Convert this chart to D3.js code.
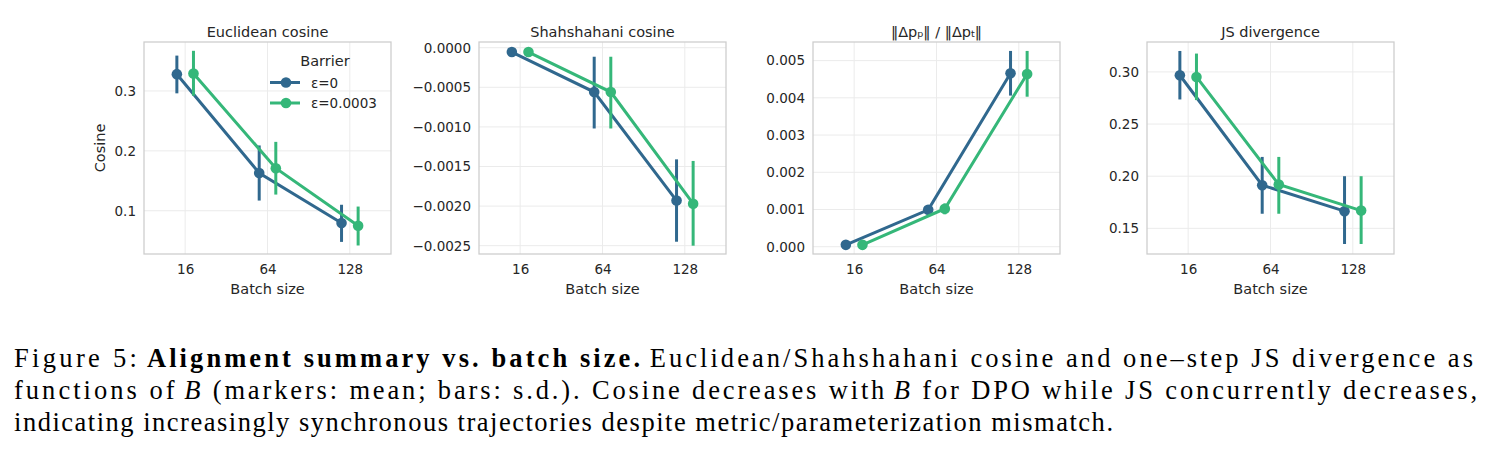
<!DOCTYPE html>
<html>
<head>
<meta charset="utf-8">
<script src="https://cdn.jsdelivr.net/npm/d3@7"></script>
<style>
  body { margin: 0; background: #fff; }
  svg text { font-family: "DejaVu Sans", sans-serif; fill: #262626; }
  svg text.cap { font-family: "Liberation Serif", serif; fill: #000; }
</style>
</head>
<body>
<svg id="chart" width="1489" height="463"></svg>
<script>
// categories and groups
const batchSizes = ["16", "64", "128"];
const barrierNames = ["ε=0", "ε=0.0003"];
const colors = ["#30688e", "#35b779"];

// Euclidean cosine (mean, low, high) per barrier
const eucMean = [[0.328, 0.163, 0.0795], [0.329, 0.171, 0.075]];
const eucLow  = [[0.296, 0.117, 0.048], [0.292, 0.127, 0.042]];
const eucHigh = [[0.359, 0.209, 0.110], [0.367, 0.215, 0.107]];

// Shahshahani cosine
const shaMean = [[-0.000055, -0.00056, -0.00193], [-0.000055, -0.00056, -0.00197]];
const shaLow  = [[-0.000060, -0.00102, -0.00245], [-0.000060, -0.00102, -0.00250]];
const shaHigh = [[-0.000050, -0.000114, -0.00141], [-0.000050, -0.000114, -0.00143]];

// ratio of update norms
const ratioMean = [[0.00005, 0.00099, 0.00466], [0.00005, 0.00102, 0.00464]];
const ratioLow  = [[0.00004, 0.00096, 0.00406], [0.00004, 0.00087, 0.00403]];
const ratioHigh = [[0.00006, 0.00102, 0.00526], [0.00006, 0.00116, 0.00526]];

// JS divergence
const jsMean = [[0.2968, 0.1914, 0.1665], [0.2952, 0.192, 0.167]];
const jsLow  = [[0.2736, 0.164, 0.135], [0.273, 0.164, 0.135]];
const jsHigh = [[0.3201, 0.2185, 0.200], [0.3176, 0.2185, 0.200]];

// tick values
const eucTicks = [0.1, 0.2, 0.3];
const shaTicks = [0, -0.0005, -0.001, -0.0015, -0.002, -0.0025];
const ratioTicks = [0, 0.001, 0.002, 0.003, 0.004, 0.005];
const jsTicks = [0.15, 0.2, 0.25, 0.3];

const panels = [
  {title: "Euclidean cosine", x0: 144, mean: eucMean, low: eucLow, high: eucHigh,
   domain: [0.0278, 0.3817], ticks: eucTicks, fmt: ".1f", ylabel: "Cosine", legend: true},
  {title: "Shahshahani cosine", x0: 479, mean: shaMean, low: shaLow, high: shaHigh,
   domain: [-0.002605, 0.000072], ticks: shaTicks, fmt: ".4f"},
  {title: null, x0: 813, mean: ratioMean, low: ratioLow, high: ratioHigh,
   domain: [-0.000196, 0.0055], ticks: ratioTicks, fmt: ".3f"},
  {title: "JS divergence", x0: 1147, mean: jsMean, low: jsLow, high: jsHigh,
   domain: [0.1254, 0.3287], ticks: jsTicks, fmt: ".2f"}
];

const svg = d3.select("#chart");
const pw = 247, yTop = 42, yBottom = 254;
const dodge = 8.3;

panels.forEach(p => {
  const x = d3.scalePoint().domain(batchSizes).range([p.x0, p.x0 + pw]).padding(0.5);
  const y = d3.scaleLinear().domain(p.domain).range([yBottom, yTop]);
  const g = svg.append("g");

  // grid
  g.selectAll("line.gx").data(batchSizes).join("line")
    .attr("x1", d => x(d)).attr("x2", d => x(d))
    .attr("y1", yTop).attr("y2", yBottom)
    .attr("stroke", "#ebebeb").attr("stroke-width", 1);
  g.selectAll("line.gy").data(p.ticks).join("line")
    .attr("x1", p.x0).attr("x2", p.x0 + pw)
    .attr("y1", d => y(d)).attr("y2", d => y(d))
    .attr("stroke", "#ebebeb").attr("stroke-width", 1);

  // frame
  g.append("rect").attr("x", p.x0).attr("y", yTop)
    .attr("width", pw).attr("height", yBottom - yTop)
    .attr("fill", "none").attr("stroke", "#cccccc").attr("stroke-width", 1.25);

  // axes (text only)
  const xa = g.append("g").attr("transform", `translate(0,${yBottom})`)
    .call(d3.axisBottom(x).tickSize(0).tickPadding(10));
  xa.select(".domain").remove();
  xa.selectAll("text").attr("font-size", 13.5).attr("font-family", null).attr("fill", null);

  const ya = g.append("g").attr("transform", `translate(${p.x0},0)`)
    .call(d3.axisLeft(y).tickValues(p.ticks).tickFormat(d3.format(p.fmt)).tickSize(0).tickPadding(8));
  ya.select(".domain").remove();
  ya.selectAll("text").attr("font-size", 13.5).attr("font-family", null).attr("fill", null);

  g.append("text").attr("x", p.x0 + pw / 2).attr("y", 294)
    .attr("text-anchor", "middle").attr("font-size", 14.5).text("Batch size");

  if (p.title) {
    g.append("text").attr("x", p.x0 + pw / 2).attr("y", 37)
      .attr("text-anchor", "middle").attr("font-size", 14.5).text(p.title);
  } else {
    const t = g.append("text").attr("x", p.x0 + pw / 2).attr("y", 37)
      .attr("text-anchor", "middle").attr("font-size", 14.5);
    t.append("tspan").text("‖Δp");
    t.append("tspan").attr("font-size", 9.5).text("p");
    t.append("tspan").text("‖ / ‖Δp");
    t.append("tspan").attr("font-size", 9.5).text("t");
    t.append("tspan").text("‖");
  }

  if (p.ylabel) {
    g.append("text").attr("transform", `translate(105,${(yTop + yBottom) / 2}) rotate(-90)`)
      .attr("text-anchor", "middle").attr("font-size", 14.5).text(p.ylabel);
  }

  // series
  barrierNames.forEach((name, s) => {
    const off = s === 0 ? -dodge : dodge;
    const pts = batchSizes.map((b, i) => ({
      x: x(b) + off, m: p.mean[s][i], lo: p.low[s][i], hi: p.high[s][i]
    }));
    const sg = g.append("g");
    sg.selectAll("line.err").data(pts).join("line")
      .attr("x1", d => d.x).attr("x2", d => d.x)
      .attr("y1", d => y(d.lo)).attr("y2", d => y(d.hi))
      .attr("stroke", colors[s]).attr("stroke-width", 3);
    sg.append("path").datum(pts)
      .attr("d", d3.line().x(d => d.x).y(d => y(d.m)))
      .attr("fill", "none").attr("stroke", colors[s]).attr("stroke-width", 3);
    sg.selectAll("circle").data(pts).join("circle")
      .attr("cx", d => d.x).attr("cy", d => y(d.m)).attr("r", 5.3)
      .attr("fill", colors[s]);
  });

  if (p.legend) {
    const lg = g.append("g");
    lg.append("text").attr("x", 325).attr("y", 66).attr("text-anchor", "middle")
      .attr("font-size", 14.5).text("Barrier");
    barrierNames.forEach((name, s) => {
      const ly = 82.5 + s * 20.5;
      lg.append("line").attr("x1", 270).attr("x2", 300).attr("y1", ly).attr("y2", ly)
        .attr("stroke", colors[s]).attr("stroke-width", 3);
      lg.append("circle").attr("cx", 286).attr("cy", ly).attr("r", 5.3).attr("fill", colors[s]);
      lg.append("text").attr("x", 311).attr("y", ly + 5).attr("font-size", 13.5).text(name);
    });
  }
});

// caption: each piece is its own text, spread so the line fills its width
const captionLines = [
  {y: 367, right: 1473, parts: [
    ["Figure 5: ", ""],
    ["Alignment summary vs. batch size.", "b"],
    [" Euclidean/Shahshahani cosine and one–step JS divergence as", ""]]},
  {y: 399, right: 1477, parts: [
    ["functions of ", ""], ["B", "i"],
    [" (markers: mean; bars: s.d.). Cosine decreases with ", ""], ["B", "i"],
    [" for DPO while JS concurrently decreases,", ""]]},
  {y: 431, right: 1113, parts: [
    ["indicating increasingly synchronous trajectories despite metric/parameterization mismatch.", ""]]}
];
const capLeft = 14;
captionLines.forEach(line => {
  const nodes = line.parts.map(([txt, st]) => svg.append("text").attr("class", "cap")
    .attr("font-size", 26.5).attr("y", line.y)
    .attr("font-weight", st === "b" ? "bold" : null)
    .attr("font-style", st === "i" ? "italic" : null)
    .style("white-space", "pre")
    .text(txt));
  const widths = nodes.map(n => n.node().getComputedTextLength());
  const chars = d3.sum(line.parts, d => d[0].length);
  const extra = (line.right - capLeft - d3.sum(widths)) / chars;
  let cx = capLeft;
  nodes.forEach((n, i) => {
    const len = widths[i] + extra * line.parts[i][0].length;
    n.attr("x", cx).attr("textLength", len).attr("lengthAdjust", "spacing");
    cx += len;
  });
});
</script>
</body>
</html>
